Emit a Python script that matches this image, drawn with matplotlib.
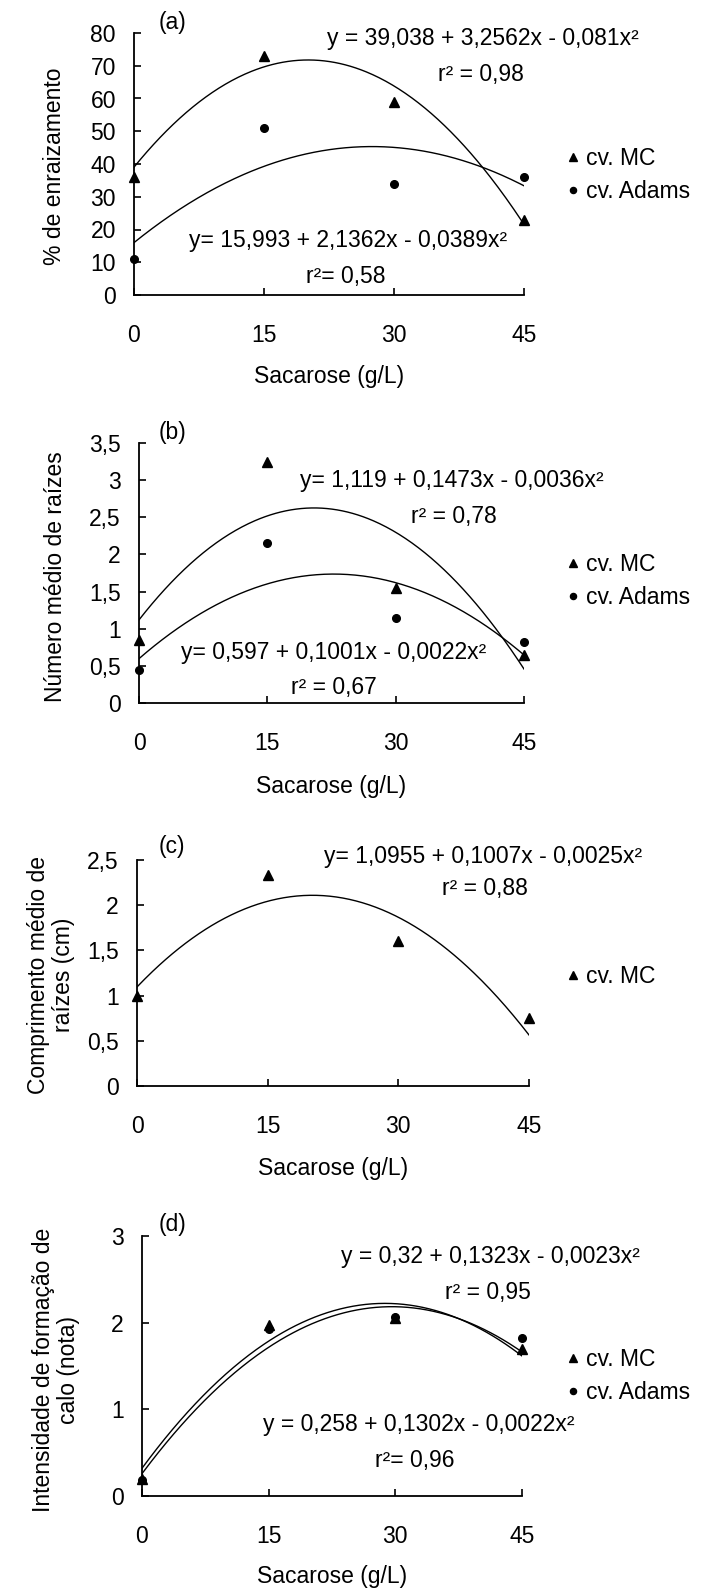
import matplotlib
matplotlib.use("Agg")
import matplotlib.pyplot as plt
import numpy as np

plt.rcParams['font.family'] = ['Liberation Sans Narrow', 'Liberation Sans', 'DejaVu Sans']

# dados
sacarose = [0, 15, 30, 45]

enraiz_mc = [36, 73, 59, 23]
enraiz_adams = [11, 51, 34, 36]
enraiz_coef_mc = [-0.081, 3.2562, 39.038]
enraiz_coef_adams = [-0.0389, 2.1362, 15.993]

num_mc = [0.85, 3.25, 1.55, 0.65]
num_adams = [0.45, 2.15, 1.15, 0.82]
num_coef_mc = [-0.0036, 0.1473, 1.119]
num_coef_adams = [-0.0022, 0.1001, 0.597]

comp_mc = [1.0, 2.33, 1.6, 0.75]
comp_coef_mc = [-0.0025, 0.1007, 1.0955]

calo_mc = [0.2, 1.97, 2.05, 1.7]
calo_adams = [0.18, 1.93, 2.07, 1.82]
calo_coef_mc = [-0.0023, 0.1323, 0.32]
calo_coef_adams = [-0.0022, 0.1302, 0.258]

W, H = 709, 1593
FS = 16.5
fig = plt.figure(figsize=(W / 100, H / 100), dpi=100)


def fx(x):
    return x / W


def fy(y):
    return 1 - y / H


def txt(x, y, s, **kw):
    fig.text(fx(x), fy(y), s, fontsize=FS, ha='center', va='center', **kw)


def num_fmt(v):
    return ('%g' % v).replace('.', ',')


def painel(x0, x1, ybot, ytop, ymax, ystep):
    ax = fig.add_axes([fx(x0), fy(ybot), (x1 - x0) / W, (ybot - ytop) / H])
    ax.set_xlim(0, 45)
    ax.set_ylim(0, ymax)
    ax.set_xticks(sacarose)
    yt = np.arange(0, ymax + ystep / 2, ystep)
    ax.set_yticks(yt)
    ax.set_yticklabels([num_fmt(round(v, 2)) for v in yt])
    ax.spines['top'].set_visible(False)
    ax.spines['right'].set_visible(False)
    for s in ['left', 'bottom']:
        ax.spines[s].set_linewidth(1.3)
    ax.tick_params(direction='in', length=5, width=1.2, labelsize=FS)
    ax.tick_params(axis='y', pad=13)
    ax.tick_params(axis='x', pad=21)
    ax.set_facecolor('none')
    return ax


xs = np.linspace(0, 45, 300)


def series(ax, vals, coef, marker, ms, label):
    ax.plot(xs, np.polyval(coef, xs), color='black', lw=1.0)
    h, = ax.plot(sacarose, vals, linestyle='none', marker=marker, color='black',
                 ms=ms, clip_on=False, label=label)
    return h


def legenda(ax, handles, y):
    ax.legend(handles=handles, loc='center left', bbox_to_anchor=(fx(568), fy(y)),
              bbox_transform=fig.transFigure, frameon=False, fontsize=FS,
              handlelength=0.45, handletextpad=0.35, labelspacing=0.45,
              borderpad=0, borderaxespad=0, markerscale=0.8)


# (a)
ax = painel(134, 524, 295, 33, 80, 10)
h1 = series(ax, enraiz_mc, enraiz_coef_mc, '^', 7, 'cv. MC')
h2 = series(ax, enraiz_adams, enraiz_coef_adams, 'o', 5.5, 'cv. Adams')
legenda(ax, [h1, h2], 175)
txt(172, 22, '(a)')
txt(483, 39, 'y = 39,038 + 3,2562x - 0,081x²')
txt(481, 74, 'r² = 0,98')
txt(348, 240, 'y= 15,993 + 2,1362x - 0,0389x²')
txt(346, 277, 'r²= 0,58')
txt(55, 166, '% de enraizamento', rotation=90)
txt(329, 377, 'Sacarose (g/L)')

# (b)
ax = painel(139, 524, 703, 443, 3.5, 0.5)
h1 = series(ax, num_mc, num_coef_mc, '^', 7, 'cv. MC')
h2 = series(ax, num_adams, num_coef_adams, 'o', 5.5, 'cv. Adams')
legenda(ax, [h1, h2], 581)
txt(172, 432, '(b)')
txt(452, 480, 'y= 1,119 + 0,1473x - 0,0036x²')
txt(454, 517, 'r² = 0,78')
txt(334, 652, 'y= 0,597 + 0,1001x - 0,0022x²')
txt(334, 687, 'r² = 0,67')
txt(56, 577, 'Número médio de raízes', rotation=90)
txt(331, 786, 'Sacarose (g/L)')

# (c)
ax = painel(137, 529, 1086, 860, 2.5, 0.5)
h1 = series(ax, comp_mc, comp_coef_mc, '^', 7, 'cv. MC')
legenda(ax, [h1], 977)
txt(172, 847, '(c)')
txt(483, 857, 'y= 1,0955 + 0,1007x - 0,0025x²')
txt(485, 888, 'r² = 0,88')
txt(51, 975, 'Comprimento médio de\nraízes (cm)', rotation=90, linespacing=1.15)
txt(333, 1169, 'Sacarose (g/L)')

# (d)
ax = painel(142, 522, 1496, 1236, 3, 1)
h1 = series(ax, calo_mc, calo_coef_mc, '^', 7, 'cv. MC')
h2 = series(ax, calo_adams, calo_coef_adams, 'o', 5.5, 'cv. Adams')
legenda(ax, [h1, h2], 1376)
txt(172, 1225, '(d)')
txt(490, 1256, 'y = 0,32 + 0,1323x - 0,0023x²')
txt(488, 1293, 'r² = 0,95')
txt(419, 1425, 'y = 0,258 + 0,1302x - 0,0022x²')
txt(415, 1460, 'r²= 0,96')
txt(56, 1370, 'Intensidade de formação de\ncalo (nota)', rotation=90, linespacing=1.15)
txt(332, 1577, 'Sacarose (g/L)')

fig.savefig('out.png', dpi=100, facecolor='white')
